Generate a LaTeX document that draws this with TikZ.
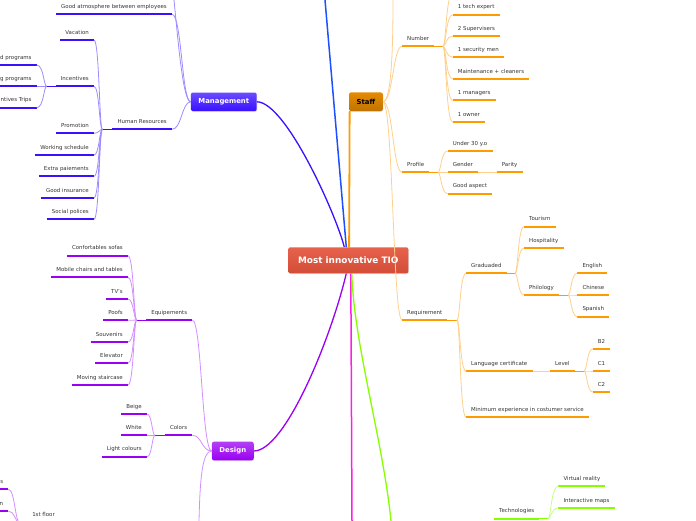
\documentclass[tikz,border=0pt]{standalone}
\usepackage{fontspec}
\setmainfont{DejaVu Sans}
\usetikzlibrary{calc,shadows}
\definecolor{txt}{HTML}{333333}
\definecolor{mC}{HTML}{3A10FF}
\definecolor{mL}{HTML}{9E8CFF}
\definecolor{sC}{HTML}{FF9A00}
\definecolor{sL}{HTML}{FFD08C}
\definecolor{dC}{HTML}{9A00F2}
\definecolor{dL}{HTML}{D38EFF}
\definecolor{gC}{HTML}{88FF00}
\definecolor{gL}{HTML}{C4FF85}
\definecolor{rootC}{HTML}{E5543C}
\definecolor{blueC}{HTML}{1E50FF}
\definecolor{magC}{HTML}{FF1EE8}
\newcommand\lffont{\fontsize{5.45pt}{6.5pt}\selectfont}
\newcommand\bxfont{\fontsize{6.9pt}{8pt}\selectfont\bfseries}
\newcommand\rtfont{\fontsize{8.9pt}{10pt}\selectfont\bfseries}
\tikzset{
 lf/.style={font=\lffont, text=txt, inner xsep=5pt, inner ysep=0pt, text height=4.5pt, text depth=5.6pt},
 lfr/.style={lf, anchor=south west},
 lfl/.style={lf, anchor=south east},
 ul/.style={line width=2.2pt, draw=#1},
 cn/.style={line width=0.8pt, draw=#1},
 trunk/.style={line width=1.3pt},
 box/.style={rounded corners=2pt, inner sep=0pt, font=\bxfont, minimum height=18.6pt,
   drop shadow={shadow xshift=0.6pt, shadow yshift=-0.8pt, opacity=0.25}},
}
\newcommand\lfR[5]{\node[lfr] (#1) at (#2,#3) {#4}; \draw[ul=#5] (#1.south west) -- (#1.south east);}
\newcommand\lfL[5]{\node[lfl] (#1) at (#2,#3) {#4}; \draw[ul=#5] (#1.south west) -- (#1.south east);}
\newcommand\brR[4][4]{\draw[#2] (#3) .. controls ($(#3)+(#1,0)$) and ($(#3 |- #4)+(#1,0)$) .. (#4);}
\newcommand\brL[4][4]{\draw[#2] (#3) .. controls ($(#3)+(-#1,0)$) and ($(#3 |- #4)+(-#1,0)$) .. (#4);}
\pgfdeclarelayer{bg}
\pgfsetlayers{bg,main}
\begin{document}
\begin{tikzpicture}[x=1pt,y=-1pt]
\useasboundingbox (0,0) rectangle (696,520);
\clip (0,0) rectangle (696,520);
% ---------- boxes
\node[box, top color=rootC!92!white, bottom color=rootC!92!black, minimum width=120pt, minimum height=26pt, font=\rtfont, text=white] (root) at (348.3,260.3) {Most innovative TIO};
\node[box, top color=mC!75!white, bottom color=mC, minimum width=65.7pt, text=white] (mgmt) at (223.8,101.8) {Management};
\node[box, top color=sC!90!black, bottom color=sC!75!black, minimum width=33.7pt, text=black] (staff) at (365.9,101.7) {Staff};
\node[box, top color=dC!75!white, bottom color=dC, minimum width=41.7pt, text=white] (design) at (232.8,451) {Design};
% ---------- trunk connectors
\coordinate (bUp) at (325,0);
\coordinate (mDown) at (352,521);
\coordinate (gDown) at (391,521);
\begin{pgfonlayer}{bg}
\draw[trunk, line width=1.5pt, blueC] ([xshift=-2pt]root.north) -- (bUp);
\draw[trunk, mC] ([xshift=-4pt]root.north) .. controls +(-8,-32) and +(29,0) .. (mgmt.east);
\draw[line width=1.8pt, sC] ([xshift=0.8pt]root.north) -- ([xshift=0.8pt]staff.south west);
\draw[trunk, dC] ([xshift=-2pt]root.south) .. controls +(-16,67) and +(31,0) .. (design.east);
\draw[trunk, line width=1.5pt, magC] ([xshift=2.5pt]root.south) -- (mDown);
\draw[trunk, gC] ([xshift=3.5pt]root.south) .. controls +(2,70) and +(-8,-80) .. (gDown);
\end{pgfonlayer}
% ---------- Management
\lfL{atm}{172}{14.3}{Good atmosphere between employees}{mC}
\lfL{hr}{172}{129.3}{Human Resources}{mC}
\lfL{vac}{94}{40}{Vacation}{mC}
\lfL{inc}{94}{86.3}{Incentives}{mC}
\lfL{prom}{94}{133.3}{Promotion}{mC}
\lfL{work}{94}{155}{Working schedule}{mC}
\lfL{extra}{94}{176.3}{Extra paiements}{mC}
\lfL{ins}{94}{198}{Good insurance}{mC}
\lfL{soc}{94}{219.3}{Social polices}{mC}
\lfL{inA}{36.7}{65}{d programs}{mC}
\lfL{inB}{36.7}{86.3}{g programs}{mC}
\lfL{inC}{36.7}{107.7}{ntives Trips}{mC}
\coordinate (mUp) at (174,0);
\draw[cn=mL] (mgmt.west) .. controls (183,102) and (178,40) .. (mUp);
\brL[9]{cn=mL}{mgmt.west}{atm.south east}
\brL[9]{cn=mL}{mgmt.west}{hr.south east}
\coordinate (jHR) at (102.3,129.3);
\draw[cn=mC] (hr.south west) -- (jHR);
\foreach \c in {vac,inc,prom,work,extra,ins,soc} {\brL[3]{cn=mL}{jHR}{\c.south east}}
\coordinate (jInc) at (46.7,86.3);
\draw[cn=mC] (inc.south west) -- (jInc);
\foreach \c in {inA,inB,inC} {\brL[3]{cn=mL}{jInc}{\c.south east}}
% ---------- Design
\lfL{equip}{192.3}{320}{Equipements}{dC}
\lfL{sofa}{128}{255.7}{Confortables sofas}{dC}
\lfL{mob}{128}{277.3}{Mobile chairs and tables}{dC}
\lfL{tv}{128}{299}{TV's}{dC}
\lfL{poof}{128}{320.3}{Poofs}{dC}
\lfL{souv}{128}{342}{Souvenirs}{dC}
\lfL{elev}{128}{363.3}{Elevator}{dC}
\lfL{stair}{128}{385}{Moving staircase}{dC}
\lfL{col}{192.3}{435.3}{Colors}{dC}
\lfL{beige}{147}{414}{Beige}{dC}
\lfL{white}{147}{435.3}{White}{dC}
\lfL{light}{147}{456.7}{Light colours}{dC}
\lfL{fl}{60}{522}{1st floor}{dC}
\lfL{bs}{8.3}{489.3}{s}{dC}
\lfL{bn}{8.3}{511}{n}{dC}
\brL[10]{cn=dL}{design.west}{equip.south east}
\brL[10]{cn=dL}{design.west}{col.south east}
\coordinate (dDown) at (199,521);
\draw[cn=dL] (design.west) .. controls (202,451) and (200,480) .. (dDown);
\coordinate (jEq) at (136.7,320);
\draw[cn=dC] (equip.south west) -- (jEq);
\foreach \c in {sofa,mob,tv,poof,souv,elev,stair} {\brL[3]{cn=dL}{jEq}{\c.south east}}
\coordinate (jCol) at (155,435.3);
\draw[cn=dC] (col.south west) -- (jCol);
\foreach \c in {beige,white,light} {\brL[3]{cn=dL}{jCol}{\c.south east}}
\coordinate (jFl) at (20,523);
\draw[cn=dC] (fl.south west) -- (jFl);
\foreach \c in {bs,bn} {\brL[5]{cn=dL}{jFl}{\c.south east}}
% ---------- Staff
\lfR{num}{402}{46.3}{Number}{sC}
\lfR{prof}{402}{172.3}{Profile}{sC}
\lfR{req}{402}{320}{Requirement}{sC}
\lfR{t1}{452.7}{14.7}{1 tech expert}{sC}
\lfR{t2}{452.7}{36}{2 Supervisers}{sC}
\lfR{t3}{452.7}{57.3}{1 security men}{sC}
\lfR{t4}{452.7}{79}{Maintenance + cleaners}{sC}
\lfR{t5}{452.7}{100.3}{1 managers}{sC}
\lfR{t6}{452.7}{122}{1 owner}{sC}
\lfR{u30}{447.7}{151}{Under 30 y.o}{sC}
\lfR{gen}{447.7}{172.3}{Gender}{sC}
\lfR{par}{496.7}{172.3}{Parity}{sC}
\lfR{asp}{447.7}{193.7}{Good aspect}{sC}
\lfR{grad}{466}{273.3}{Graduaded}{sC}
\lfR{lang}{466}{371}{Language certificate}{sC}
\lfR{minx}{466}{417.3}{Minimum experience in costumer service}{sC}
\lfR{tour}{524}{226.7}{Tourism}{sC}
\lfR{hosp}{524}{248}{Hospitality}{sC}
\lfR{phil}{524}{295}{Philology}{sC}
\lfR{eng}{577.3}{273.3}{English}{sC}
\lfR{chi}{577.3}{295}{Chinese}{sC}
\lfR{spa}{577.3}{316.7}{Spanish}{sC}
\lfR{lvl}{550}{371}{Level}{sC}
\lfR{b2}{592.7}{349}{B2}{sC}
\lfR{c1}{592.7}{371}{C1}{sC}
\lfR{c2}{592.7}{392}{C2}{sC}
\coordinate (sUp) at (393,0);
\draw[cn=sL] (staff.east) .. controls (392,102) and (393,40) .. (sUp);
\foreach \c in {num,prof,req} {\brR[10]{cn=sL}{staff.east}{\c.south west}}
\coordinate (jNum) at (443,46.3);
\coordinate (nUp) at (452.7,-7);
\draw[cn=sC] (num.south east) -- (jNum);
\foreach \c in {t1,t2,t3,t4,t5,t6} {\brR[3]{cn=sL}{jNum}{\c.south west}}
\brR[3]{cn=sL}{jNum}{nUp}
\coordinate (jProf) at (438,172.3);
\draw[cn=sC] (prof.south east) -- (jProf);
\foreach \c in {u30,gen,asp} {\brR[3]{cn=sL}{jProf}{\c.south west}}
\draw[cn=sL] (gen.south east) -- (par.south west);
\coordinate (jReq) at (457,320);
\draw[cn=sC] (req.south east) -- (jReq);
\foreach \c in {grad,lang,minx} {\brR[3]{cn=sL}{jReq}{\c.south west}}
\coordinate (jGrad) at (515,273.3);
\draw[cn=sC] (grad.south east) -- (jGrad);
\foreach \c in {tour,hosp,phil} {\brR[3]{cn=sL}{jGrad}{\c.south west}}
\coordinate (jPhil) at (568,295);
\draw[cn=sC] (phil.south east) -- (jPhil);
\foreach \c in {eng,chi,spa} {\brR[3]{cn=sL}{jPhil}{\c.south west}}
\draw[cn=sL] (lang.south east) -- (lvl.south west);
\coordinate (jLvl) at (584,371);
\draw[cn=sC] (lvl.south east) -- (jLvl);
\foreach \c in {b2,c1,c2} {\brR[3]{cn=sL}{jLvl}{\c.south west}}
% ---------- Technologies
\lfR{tech}{494}{518.7}{Technologies}{gC}
\lfR{vr}{558.3}{486.3}{Virtual reality}{gC}
\lfR{imap}{558.3}{508}{Interactive maps}{gC}
\coordinate (jTech) at (548,518.7);
\draw[cn=gC] (tech.south east) -- (jTech);
\foreach \c in {vr,imap} {\brR[3]{cn=gL}{jTech}{\c.south west}}
\end{tikzpicture}
\end{document}
